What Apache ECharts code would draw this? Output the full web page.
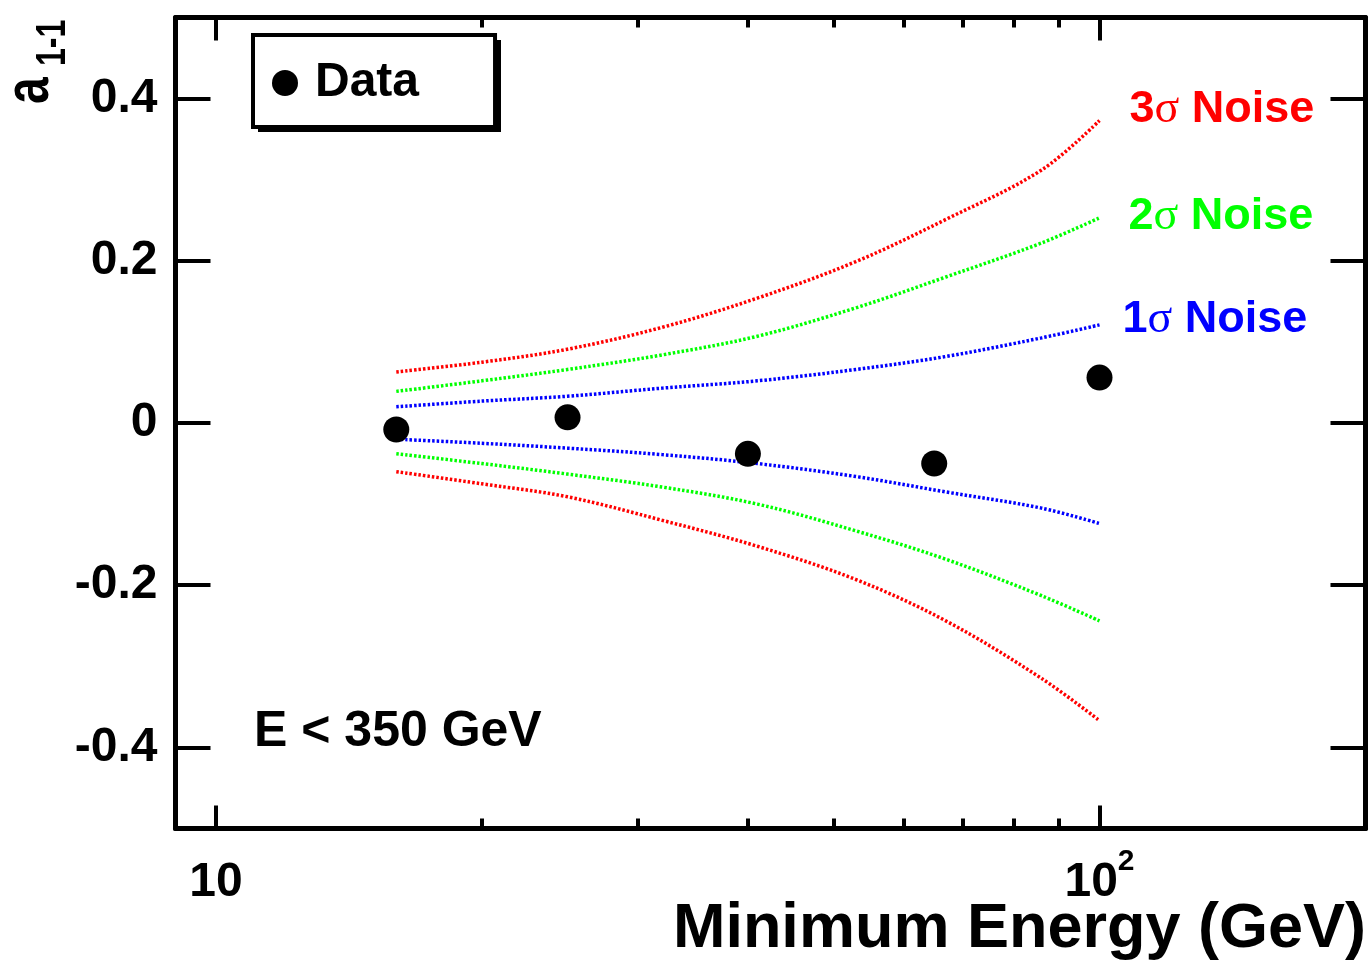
<!DOCTYPE html>
<html>
<head>
<meta charset="utf-8">
<script src="https://cdn.jsdelivr.net/npm/echarts@6/dist/echarts.min.js"></script>
<style>
html,body{margin:0;padding:0;background:#fff;}
#chart{width:1371px;height:964px;}
</style>
</head>
<body>
<div id="chart"></div>
<script>
// ---- data ----
const dataEnergy = [16, 25, 40, 65, 100];
const dataA11 = [-0.008, 0.007, -0.038, -0.050, 0.056];

const noiseEnergy = [16, 20, 25, 32, 41, 53, 67, 86, 100];
const sigma1Up = [0.020, 0.027, 0.033, 0.043, 0.052, 0.066, 0.082, 0.105, 0.121];
const sigma1Dn = [-0.020, -0.025, -0.031, -0.039, -0.050, -0.066, -0.085, -0.105, -0.124];
const sigma2Up = [0.039, 0.052, 0.066, 0.084, 0.107, 0.142, 0.180, 0.222, 0.253];
const sigma2Dn = [-0.038, -0.050, -0.063, -0.079, -0.100, -0.133, -0.168, -0.213, -0.244];
const sigma3Up = [0.063, 0.075, 0.091, 0.118, 0.154, 0.199, 0.251, 0.312, 0.373];
const sigma3Dn = [-0.060, -0.075, -0.091, -0.120, -0.152, -0.193, -0.244, -0.315, -0.367];

const xMajorTicks = [10, 100];
const xMinorTicks = [20, 30, 40, 50, 60, 70, 80, 90];
const yTicks = [-0.4, -0.2, 0, 0.2, 0.4];

const xTitle = 'Minimum Energy (GeV)';
const annotation = 'E < 350 GeV';

const FONT = '"Liberation Sans", Arial, Helvetica, sans-serif';
const pair = (xs, ys) => xs.map((x, i) => [x, ys[i]]);

const chart = echarts.init(document.getElementById('chart'), null, {renderer: 'canvas'});

const baseX = {
  type: 'log', logBase: 10, min: 9, max: 200, gridIndex: 0,
  splitLine: {show: false}, minorSplitLine: {show: false}
};
const axisLineStyle = {show: true, onZero: false, lineStyle: {color: '#000', width: 5}};

function noiseSeries(name, ys, color, label) {
  const s = {
    name: name, type: 'line', data: pair(noiseEnergy, ys),
    showSymbol: false, symbol: 'none', smooth: 0.35, silent: true,
    lineStyle: {color: color, width: 3.5, type: [2.5, 2]},
    z: 2
  };
  if (label) s.endLabel = label;
  return s;
}
function noiseLabel(num, color, dist, dy) {
  return {
    show: true, distance: dist, offset: [0, dy],
    formatter: num + '{s|σ} Noise',
    color: color, fontFamily: FONT, fontWeight: 'bold', fontSize: 45,
    rich: {s: {fontFamily: '"Liberation Serif", "Times New Roman", serif', fontWeight: 'normal', fontSize: 46, color: color}}
  };
}

const option = {
  animation: false,
  backgroundColor: '#fff',
  grid: {left: 175.5, top: 17.5, width: 1190, height: 811, containLabel: false, outerBoundsMode: 'none'},
  legend: {
    data: [{name: 'Data', icon: 'circle'}],
    left: 253, top: 35, z: 5,
    orient: 'horizontal',
    itemWidth: 26, itemHeight: 26,
    padding: [24, 76, 20, 19],
    backgroundColor: '#fff',
    borderColor: '#000', borderWidth: 4, borderRadius: 0,
    textStyle: {fontFamily: FONT, fontWeight: 'bold', fontSize: 48, color: '#000', padding: [0, 0, 0, 12]},
    selectedMode: false
  },
  xAxis: [
    Object.assign({}, baseX, {
      position: 'bottom',
      axisLine: axisLineStyle,
      axisTick: {show: true, inside: true, length: 23, customValues: xMajorTicks, lineStyle: {color: '#000', width: 4}},
      axisLabel: {
        show: true, customValues: xMajorTicks, margin: 18,
        formatter: v => (Math.abs(v - 100) < 1e-6 ? '{b|10}{sup|2}' : '{b|10}'),
        rich: {
          b: {fontFamily: FONT, fontWeight: 'bold', fontSize: 48, color: '#000', padding: [12, 0, 0, 0], verticalAlign: 'bottom'},
          sup: {fontFamily: FONT, fontWeight: 'bold', fontSize: 30, color: '#000', verticalAlign: 'top'}
        }
      }
    }),
    Object.assign({}, baseX, {
      position: 'bottom',
      axisLine: {show: false, onZero: false},
      axisTick: {show: true, inside: true, length: 10, customValues: xMinorTicks, lineStyle: {color: '#000', width: 4}},
      axisLabel: {show: false}
    }),
    Object.assign({}, baseX, {
      position: 'top',
      axisLine: axisLineStyle,
      axisTick: {show: true, inside: true, length: 23, customValues: xMajorTicks, lineStyle: {color: '#000', width: 4}},
      axisLabel: {show: false}
    }),
    Object.assign({}, baseX, {
      position: 'top',
      axisLine: {show: false, onZero: false},
      axisTick: {show: true, inside: true, length: 10, customValues: xMinorTicks, lineStyle: {color: '#000', width: 4}},
      axisLabel: {show: false}
    })
  ],
  yAxis: [
    {
      type: 'value', min: -0.5, max: 0.5, position: 'left',
      axisLine: axisLineStyle,
      splitLine: {show: false},
      axisTick: {show: true, inside: true, length: 35, customValues: yTicks, lineStyle: {color: '#000', width: 4}},
      axisLabel: {show: true, customValues: yTicks, margin: 18, fontFamily: FONT, fontWeight: 'bold', fontSize: 48, color: '#000',
        formatter: v => String(Math.round(v * 10) / 10)}
    },
    {
      type: 'value', min: -0.5, max: 0.5, position: 'right',
      axisLine: axisLineStyle,
      splitLine: {show: false},
      axisTick: {show: true, inside: true, length: 35, customValues: yTicks, lineStyle: {color: '#000', width: 4}},
      axisLabel: {show: false}
    }
  ],
  graphic: [
    {type: 'rect', z: 1, shape: {x: 258, y: 40, width: 243, height: 92}, style: {fill: '#000'}},
    {type: 'text', x: 62, y: 104, rotation: Math.PI / 2, scaleY: 1.3,
      style: {text: 'a', font: 'bold 48px ' + FONT, fill: '#000', textAlign: 'left', textVerticalAlign: 'bottom'}},
    {type: 'text', x: 74, y: 66, rotation: Math.PI / 2, scaleY: 1.3,
      style: {text: '1-1', font: 'bold 32px ' + FONT, fill: '#000', textAlign: 'left', textVerticalAlign: 'bottom'}},
    {type: 'text', left: 254, top: 707,
      style: {text: annotation, font: 'bold 50px ' + FONT, fill: '#000'}},
    {type: 'text', right: 5, top: 898,
      style: {text: xTitle, font: 'bold 63px ' + FONT, fill: '#000'}}
  ],
  series: [
    noiseSeries('3s up', sigma3Up, '#ff0000', noiseLabel('3', '#ff0000', 30, -11)),
    noiseSeries('3s dn', sigma3Dn, '#ff0000'),
    noiseSeries('2s up', sigma2Up, '#00ff00', noiseLabel('2', '#00ff00', 29, -1)),
    noiseSeries('2s dn', sigma2Dn, '#00ff00'),
    noiseSeries('1s up', sigma1Up, '#0000ff', noiseLabel('1', '#0000ff', 23, -5)),
    noiseSeries('1s dn', sigma1Dn, '#0000ff'),
    {
      name: 'Data', type: 'scatter', data: pair(dataEnergy, dataA11),
      symbol: 'circle', symbolSize: 26, itemStyle: {color: '#000', opacity: 1}, z: 5, silent: true
    }
  ]
};
chart.setOption(option);
</script>
</body>
</html>
